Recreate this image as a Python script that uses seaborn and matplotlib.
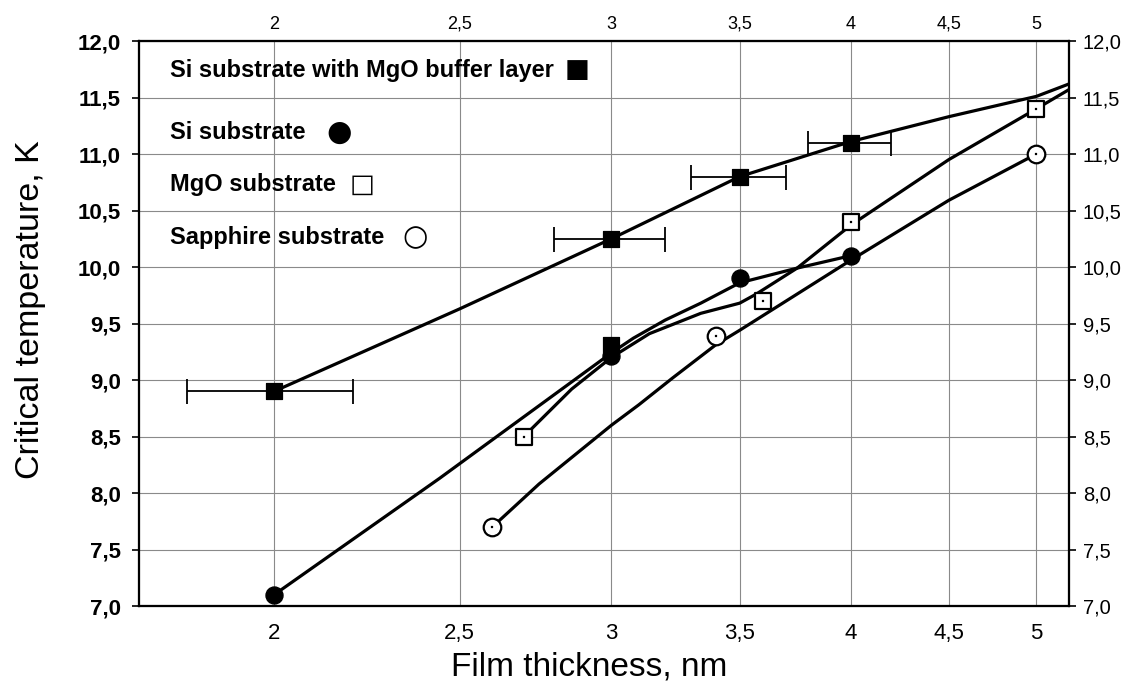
import seaborn
import matplotlib.pyplot as pyplt
from matplotlib.ticker import FixedLocator, FuncFormatter, NullLocator

# measured points (film thickness nm, critical temperature K)
buffer_x = [2.0, 3.0, 3.5, 4.0]
buffer_y = [8.9, 10.25, 10.8, 11.1]
buffer_xerr = [0.2, 0.2, 0.2, 0.2]
buffer_extra_x = [3.0]
buffer_extra_y = [9.31]

si_x = [2.0, 3.0, 3.5, 4.0]
si_y = [7.1, 9.21, 9.9, 10.1]

mgo_x = [2.7, 3.6, 4.0, 5.0]
mgo_y = [8.5, 9.7, 10.4, 11.4]

sapphire_x = [2.6, 3.4, 5.0]
sapphire_y = [7.7, 9.39, 11.0]

# fitted curves
buffer_fit_x = [2.0, 2.5, 3.0, 3.5, 4.0, 4.5, 5.0, 5.2]
buffer_fit_y = [8.9, 9.63, 10.25, 10.8, 11.11, 11.33, 11.51, 11.62]
si_fit_x = [2.0, 2.44, 3.0, 3.08, 3.2, 3.34, 3.5, 3.75, 4.0]
si_fit_y = [7.1, 8.13, 9.24, 9.37, 9.53, 9.68, 9.86, 9.99, 10.1]
mgo_fit_x = [2.7, 2.86, 3.0, 3.14, 3.34, 3.5, 3.57, 3.75, 4.0, 4.5, 5.0, 5.2]
mgo_fit_y = [8.5, 8.92, 9.2, 9.41, 9.59, 9.68, 9.76, 9.99, 10.37, 10.95, 11.4, 11.57]
sapphire_fit_x = [2.6, 2.75, 3.0, 3.1, 3.23, 3.4, 3.5, 4.0, 4.5, 5.0]
sapphire_fit_y = [7.7, 8.08, 8.6, 8.78, 9.02, 9.31, 9.44, 10.06, 10.59, 11.0]

x_ticks = [2, 2.5, 3, 3.5, 4, 4.5, 5]
y_ticks = [7.0, 7.5, 8.0, 8.5, 9.0, 9.5, 10.0, 10.5, 11.0, 11.5, 12.0]

legend_labels = ['Si substrate with MgO buffer layer', 'Si substrate',
                 'MgO substrate', 'Sapphire substrate']
legend_glyphs = ['\u25a0', '\u25cf', '\u25a1', '\u25cb']

seaborn.set_theme(style='ticks')
pyplt.rcParams['font.family'] = ['Liberation Sans', 'DejaVu Sans']
pyplt.rcParams['text.color'] = 'black'
pyplt.rcParams['axes.labelcolor'] = 'black'

x_fmt = FuncFormatter(lambda v, p: ('%g' % v).replace('.', ','))
y_fmt = FuncFormatter(lambda v, p: ('%.1f' % v).replace('.', ','))

fig = pyplt.figure(figsize=(11.22, 6.85), dpi=100)
ax = fig.add_axes([139 / 1122, 1 - 606 / 685, 930 / 1122, 565 / 685])
ax.set_xscale('log')
ax.set_xlim(1.70, 5.20)
ax.set_ylim(7.0, 12.0)

for cx, cy in [(buffer_fit_x, buffer_fit_y), (si_fit_x, si_fit_y),
               (mgo_fit_x, mgo_fit_y), (sapphire_fit_x, sapphire_fit_y)]:
    seaborn.lineplot(x=cx, y=cy, ax=ax, color='black', linewidth=2.3,
                     sort=False, estimator=None, zorder=3)

ax.errorbar(buffer_x, buffer_y, xerr=buffer_xerr, fmt='none', ecolor='black',
            elinewidth=1.3, capsize=9, capthick=1.3, zorder=4)

seaborn.scatterplot(x=buffer_x + buffer_extra_x, y=buffer_y + buffer_extra_y, ax=ax,
                    marker='s', s=120, color='black', edgecolor='black', zorder=5)
seaborn.scatterplot(x=si_x, y=si_y, ax=ax, marker='o', s=150,
                    color='black', edgecolor='black', zorder=5)
seaborn.scatterplot(x=mgo_x, y=mgo_y, ax=ax, marker='s', s=130,
                    facecolor='white', edgecolor='black', linewidth=1.6, zorder=5)
seaborn.scatterplot(x=sapphire_x, y=sapphire_y, ax=ax, marker='o', s=160,
                    facecolor='white', edgecolor='black', linewidth=1.6, zorder=5)
# the tiny centre dots of the open markers
seaborn.scatterplot(x=mgo_x + sapphire_x, y=mgo_y + sapphire_y, ax=ax, marker='s',
                    s=4, color='black', edgecolor='black', zorder=6)

ax.xaxis.set_major_locator(FixedLocator(x_ticks))
ax.xaxis.set_minor_locator(NullLocator())
ax.xaxis.set_major_formatter(x_fmt)
ax.yaxis.set_major_locator(FixedLocator(y_ticks))
ax.yaxis.set_major_formatter(y_fmt)
ax.grid(True, color='#8a8a8a', linewidth=0.8)
ax.tick_params(axis='x', length=0, pad=12, labelsize=16, colors='black')
ax.tick_params(axis='y', length=5, width=1.2, pad=8, labelsize=16, colors='black')
for lab in ax.get_yticklabels():
    lab.set_fontweight('bold')

axr = ax.twinx()
axr.set_ylim(7.0, 12.0)
axr.yaxis.set_major_locator(FixedLocator(y_ticks))
axr.yaxis.set_major_formatter(y_fmt)
axr.tick_params(axis='y', length=5, width=1.2, pad=5, labelsize=14.5, colors='black')

axt = ax.twiny()
axt.set_xscale('log')
axt.set_xlim(1.70, 5.20)
axt.xaxis.set_major_locator(FixedLocator(x_ticks))
axt.xaxis.set_minor_locator(NullLocator())
axt.xaxis.set_major_formatter(x_fmt)
axt.tick_params(axis='x', length=0, pad=6, labelsize=13, colors='black')

for a in (ax, axr, axt):
    for sp in a.spines.values():
        sp.set_visible(True)
        sp.set_color('black')
        sp.set_linewidth(1.5)

ax.set_xlabel('Film thickness, nm', fontsize=24)
ax.xaxis.set_label_coords(0.484, -0.08)
ax.set_ylabel('Critical temperature, K', fontsize=24.5)
ax.yaxis.set_label_coords(-0.1, 0.524)

label_y = [0.948, 0.838, 0.746, 0.652]
glyph_gap = [8, 15, 10, 13]
glyph_size = [19, 21, 19, 21]
for lab, gl, ly, gap, gs in zip(legend_labels, legend_glyphs, label_y, glyph_gap, glyph_size):
    t = ax.text(0.033, ly, lab, transform=ax.transAxes, fontsize=17,
                fontweight='bold', va='center', ha='left', zorder=7)
    ax.annotate(gl, xy=(1, 0.5), xycoords=t, xytext=(gap, 0),
                textcoords='offset points', va='center', ha='left',
                fontsize=gs, family=['DejaVu Sans'], zorder=7)

fig.savefig('out.png', dpi=100)
